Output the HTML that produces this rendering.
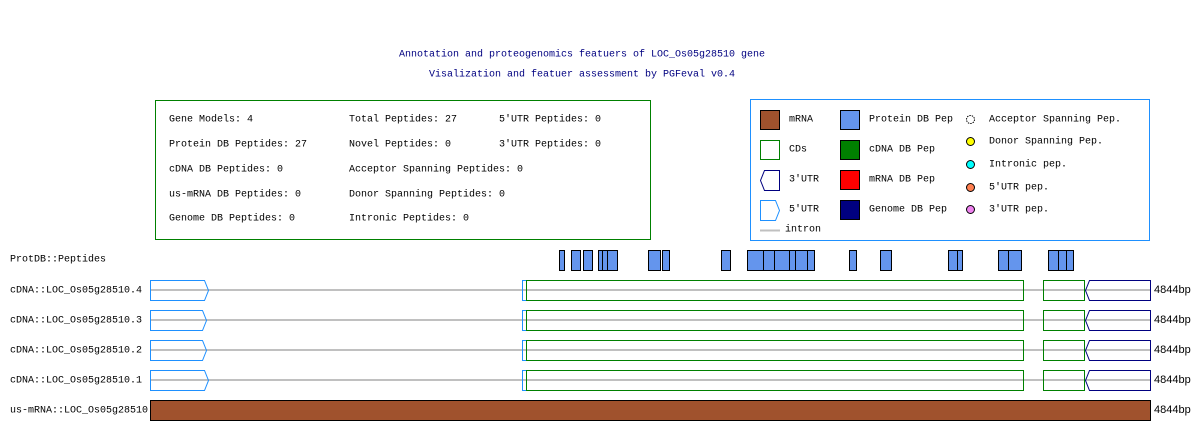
<!DOCTYPE html>
<html><head><meta charset="utf-8"><style>
html,body{margin:0;padding:0;background:#fff;}
svg{display:block}
text{font-family:"Liberation Mono","DejaVu Sans Mono",monospace;font-size:10px;dominant-baseline:middle;}
text.bp{font-family:"Liberation Sans",sans-serif;font-size:11px;}
</style></head><body>
<svg width="1200" height="430" viewBox="0 0 1200 430" xmlns="http://www.w3.org/2000/svg">
<text x="582" y="54" fill="#000080" text-anchor="middle">Annotation and proteogenomics featuers of LOC_Os05g28510 gene</text>
<text x="582" y="74" fill="#000080" text-anchor="middle">Visalization and featuer assessment by PGFeval v0.4</text>

<rect x="155.5" y="100.5" width="495" height="139" fill="none" stroke="#008000"/>
<g fill="#000">
<text x="169" y="119">Gene Models: 4</text>
<text x="169" y="144">Protein DB Peptides: 27</text>
<text x="169" y="169">cDNA DB Peptides: 0</text>
<text x="169" y="194">us-mRNA DB Peptides: 0</text>
<text x="169" y="218">Genome DB Peptides: 0</text>
<text x="349" y="119">Total Peptides: 27</text>
<text x="349" y="144">Novel Peptides: 0</text>
<text x="349" y="169">Acceptor Spanning Peptides: 0</text>
<text x="349" y="194">Donor Spanning Peptides: 0</text>
<text x="349" y="218">Intronic Peptides: 0</text>
<text x="499" y="119">5′UTR Peptides: 0</text>
<text x="499" y="144">3′UTR Peptides: 0</text>
</g>

<rect x="750.5" y="99.5" width="399" height="141" fill="none" stroke="#1e90ff"/>
<rect x="760.5" y="110.5" width="19" height="19" fill="#a0522d" stroke="#000"/>
<text x="789" y="119">mRNA</text>
<rect x="760.5" y="140.5" width="19" height="19" fill="#fff" stroke="#008000"/>
<text x="789" y="149">CDs</text>
<polygon points="764.5,170.5 779.5,170.5 779.5,190.5 764.5,190.5 760.5,180.5" fill="#fff" stroke="#000080"/>
<text x="789" y="179">3′UTR</text>
<polygon points="760.5,200.5 775.5,200.5 779.5,210.5 775.5,220.5 760.5,220.5" fill="#fff" stroke="#1e90ff"/>
<text x="789" y="209">5′UTR</text>
<line x1="760" y1="230.5" x2="780" y2="230.5" stroke="#c0c0c0" stroke-width="2"/>
<text x="785" y="229">intron</text>
<rect x="840.5" y="110.5" width="19" height="19" fill="#6495ed" stroke="#000"/>
<text x="869" y="119">Protein DB Pep</text>
<rect x="840.5" y="140.5" width="19" height="19" fill="#008000" stroke="#000"/>
<text x="869" y="149">cDNA DB Pep</text>
<rect x="840.5" y="170.5" width="19" height="19" fill="#ff0000" stroke="#000"/>
<text x="869" y="179">mRNA DB Pep</text>
<rect x="840.5" y="200.5" width="19" height="19" fill="#000080" stroke="#000"/>
<text x="869" y="209">Genome DB Pep</text>
<circle cx="970.5" cy="119.5" r="4" fill="#fff" stroke="#000" stroke-dasharray="1.5,1"/>
<text x="989" y="119">Acceptor Spanning Pep.</text>
<circle cx="970.5" cy="141.5" r="4" fill="#ffff00" stroke="#000"/>
<text x="989" y="141">Donor Spanning Pep.</text>
<circle cx="970.5" cy="164.5" r="4" fill="#00ffff" stroke="#000"/>
<text x="989" y="164">Intronic pep.</text>
<circle cx="970.5" cy="187.5" r="4" fill="#ff7f50" stroke="#000"/>
<text x="989" y="187">5′UTR pep.</text>
<circle cx="970.5" cy="209.5" r="4" fill="#ee82ee" stroke="#000"/>
<text x="989" y="209">3′UTR pep.</text>

<text x="10" y="259">ProtDB::Peptides</text>
<g fill="#6495ed" stroke="#000" stroke-width="1">
<rect x="559.5" y="250.5" width="5" height="20"/>
<rect x="571.5" y="250.5" width="9" height="20"/>
<rect x="583.5" y="250.5" width="9" height="20"/>
<rect x="598.5" y="250.5" width="5" height="20"/>
<rect x="602.5" y="250.5" width="5" height="20"/>
<rect x="607.5" y="250.5" width="10" height="20"/>
<rect x="648.5" y="250.5" width="12" height="20"/>
<rect x="662.5" y="250.5" width="7" height="20"/>
<rect x="721.5" y="250.5" width="9" height="20"/>
<rect x="747.5" y="250.5" width="16" height="20"/>
<rect x="763.5" y="250.5" width="11" height="20"/>
<rect x="774.5" y="250.5" width="15" height="20"/>
<rect x="789.5" y="250.5" width="6" height="20"/>
<rect x="795.5" y="250.5" width="12" height="20"/>
<rect x="807.5" y="250.5" width="7" height="20"/>
<rect x="849.5" y="250.5" width="7" height="20"/>
<rect x="880.5" y="250.5" width="11" height="20"/>
<rect x="948.5" y="250.5" width="9" height="20"/>
<rect x="957.5" y="250.5" width="5" height="20"/>
<rect x="998.5" y="250.5" width="10" height="20"/>
<rect x="1008.5" y="250.5" width="13" height="20"/>
<rect x="1048.5" y="250.5" width="10" height="20"/>
<rect x="1058.5" y="250.5" width="8" height="20"/>
<rect x="1066.5" y="250.5" width="7" height="20"/>
</g>

<defs>
<g id="row">
<line x1="150" y1="10" x2="1150" y2="10" stroke="#c0c0c0" stroke-width="2"/>
<rect x="522.5" y="0.5" width="4" height="20" fill="none" stroke="#1e90ff"/>
<rect x="526.5" y="0.5" width="497" height="20" fill="none" stroke="#008000"/>
<rect x="1043.5" y="0.5" width="41" height="20" fill="none" stroke="#008000"/>
<polygon points="1089.5,0.5 1150.5,0.5 1150.5,20.5 1089.5,20.5 1085.5,10.5" fill="none" stroke="#000080"/>
<text class="bp" x="1154" y="10">4844bp</text>
</g>
</defs>
<g transform="translate(0,280)"><use href="#row"/><polygon points="150.5,0.5 204.5,0.5 208.5,10.5 204.5,20.5 150.5,20.5" fill="none" stroke="#1e90ff"/></g>
<g transform="translate(0,310)"><use href="#row"/><polygon points="150.5,0.5 202.5,0.5 206.5,10.5 202.5,20.5 150.5,20.5" fill="none" stroke="#1e90ff"/></g>
<g transform="translate(0,340)"><use href="#row"/><polygon points="150.5,0.5 202.5,0.5 206.5,10.5 202.5,20.5 150.5,20.5" fill="none" stroke="#1e90ff"/></g>
<g transform="translate(0,370)"><use href="#row"/><polygon points="150.5,0.5 204.5,0.5 208.5,10.5 204.5,20.5 150.5,20.5" fill="none" stroke="#1e90ff"/></g>
<text x="10" y="290">cDNA::LOC_Os05g28510.4</text>
<text x="10" y="320">cDNA::LOC_Os05g28510.3</text>
<text x="10" y="350">cDNA::LOC_Os05g28510.2</text>
<text x="10" y="380">cDNA::LOC_Os05g28510.1</text>
<text x="10" y="410">us-mRNA::LOC_Os05g28510</text>
<rect x="150.5" y="400.5" width="1000" height="20" fill="#a0522d" stroke="#000"/>
<text class="bp" x="1154" y="410">4844bp</text>
</svg>
</body></html>
